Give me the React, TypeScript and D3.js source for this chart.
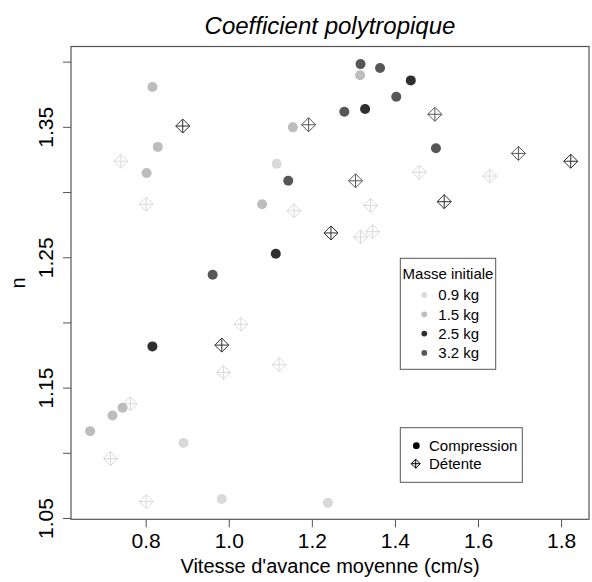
import React from "react";
import * as d3 from "d3";

// ---- data ----
const masses = ["0.9 kg", "1.5 kg", "2.5 kg", "3.2 kg"];
const massColors = ["#d9d9d9", "#bdbdbd", "#2e2e2e", "#575757"];

// Compression (filled circles): [vitesse, n]
const comp09: [number, number][] = [
  [1.114, 1.322], [0.890, 1.108], [0.982, 1.065], [1.2375, 1.062],
];
const comp15: [number, number][] = [
  [0.815, 1.381], [0.828, 1.335], [0.801, 1.315], [1.153, 1.350], [1.079, 1.291],
  [1.315, 1.390], [0.743, 1.135], [0.719, 1.129], [0.665, 1.117],
];
const comp25: [number, number][] = [
  [1.112, 1.253], [1.437, 1.386], [1.327, 1.364], [0.815, 1.182],
];
const comp32: [number, number][] = [
  [1.142, 1.309], [0.960, 1.237], [1.316, 1.3985], [1.363, 1.3955],
  [1.402, 1.3735], [1.277, 1.362], [1.4975, 1.334],
];

// Détente (diamond plus)
const det09: [number, number][] = [
  [0.739, 1.324], [0.800, 1.291], [1.156, 1.286], [1.4575, 1.3155], [1.627, 1.3126],
  [1.340, 1.290], [1.316, 1.266], [1.345, 1.270], [1.028, 1.199], [1.120, 1.168],
  [0.986, 1.162], [0.762, 1.138], [0.714, 1.096], [0.800, 1.063],
];
const det25: [number, number][] = [
  [0.888, 1.351], [1.822, 1.324], [1.5175, 1.293], [1.2448, 1.269], [0.982, 1.183],
];
const det32: [number, number][] = [
  [1.191, 1.352], [1.495, 1.360], [1.696, 1.330], [1.304, 1.309],
];

const xTicks = [0.8, 1.0, 1.2, 1.4, 1.6, 1.8];
const yTicks = [1.05, 1.1, 1.15, 1.2, 1.25, 1.3, 1.35, 1.4];
const yLabels = [1.05, 1.15, 1.25, 1.35];

const compSeries = [comp09, comp15, comp25, comp32];
const detSeries = [det09, [] as [number, number][], det25, det32];

const FONT = "'Liberation Sans', Arial, Helvetica, sans-serif";

const L = 71, R = 589, T = 46.5, B = 519.3;

function Diamond({ cx, cy, s, color }: { cx: number; cy: number; s: number; color: string }) {
  return (
    <g stroke={color} strokeWidth={1} fill="none">
      <path d={`M${cx},${cy - s}L${cx + s},${cy}L${cx},${cy + s}L${cx - s},${cy}Z`} />
      <line x1={cx} y1={cy - s} x2={cx} y2={cy + s} />
      <line x1={cx - s} y1={cy} x2={cx + s} y2={cy} />
    </g>
  );
}

export default function App() {
  const x = d3.scaleLinear().domain([0.619, 1.866]).range([L, R]);
  const y = d3.scaleLinear().domain([1.0494, 1.412]).range([B, T]);

  return (
    <svg width={592} height={582} style={{ position: "absolute", left: 0, top: 0 }} fontFamily={FONT}>
      <rect x={0} y={0} width={592} height={582} fill="#fff" />
      <text x={330} y={34} textAnchor="middle" fontSize={24} fontStyle="italic" fill="#000">
        Coefficient polytropique
      </text>

      {/* points: detente first, then compression */}
      {detSeries.map((s, i) =>
        s.map((d, j) => <Diamond key={`d${i}-${j}`} cx={x(d[0])} cy={y(d[1])} s={7} color={massColors[i]} />)
      )}
      {compSeries.map((s, i) =>
        s.map((d, j) => <circle key={`c${i}-${j}`} cx={x(d[0])} cy={y(d[1])} r={5} fill={massColors[i]} />)
      )}

      {/* box */}
      <rect x={L} y={T} width={R - L} height={B - T} fill="none" stroke="#555" strokeWidth={1.2} />

      {/* x axis */}
      {xTicks.map((t) => (
        <g key={`xt${t}`}>
          <line x1={x(t)} x2={x(t)} y1={B} y2={B + 8} stroke="#555" />
          <text x={x(t)} y={548} textAnchor="middle" fontSize={21} fill="#000">{t.toFixed(1)}</text>
        </g>
      ))}
      <text x={330} y={573} textAnchor="middle" fontSize={20} fill="#000">Vitesse d'avance moyenne (cm/s)</text>

      {/* y axis */}
      {yTicks.map((t) => (
        <line key={`yt${t}`} x1={L - 8} x2={L} y1={y(t)} y2={y(t)} stroke="#555" />
      ))}
      {yLabels.map((t) => (
        <text key={`yl${t}`} transform={`translate(53,${y(t)}) rotate(-90)`} textAnchor="middle" fontSize={21} fill="#000">
          {t.toFixed(2)}
        </text>
      ))}
      <text transform={`translate(25,${(T + B) / 2}) rotate(-90)`} textAnchor="middle" fontSize={20} fill="#000">n</text>

      {/* legend masse */}
      <rect x={400.3} y={258.3} width={95.4} height={111} fill="#fff" stroke="#555" />
      <text x={448} y={278.5} textAnchor="middle" fontSize={15} fill="#000">Masse initiale</text>
      {masses.map((m, i) => (
        <g key={m}>
          <circle cx={424.3} cy={295 + i * 19.3} r={2.9} fill={massColors[i]} />
          <text x={438.3} y={300.3 + i * 19.3} fontSize={15} fill="#000">{m}</text>
        </g>
      ))}

      {/* legend type */}
      <rect x={400.3} y={427.7} width={122} height={54.6} fill="#fff" stroke="#555" />
      <circle cx={416.3} cy={445.7} r={3.4} fill="#000" />
      <text x={429} y={451} fontSize={15} fill="#000">Compression</text>
      <Diamond cx={415.7} cy={463.7} s={4.5} color="#000" />
      <text x={429} y={469.3} fontSize={15} fill="#000">Détente</text>
    </svg>
  );
}
